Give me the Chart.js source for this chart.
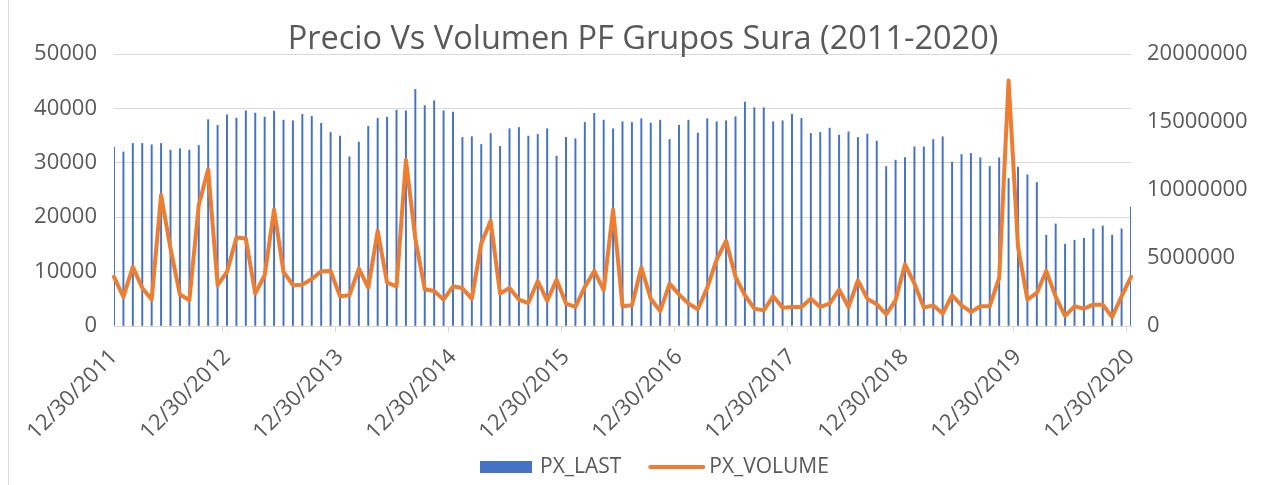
<!DOCTYPE html>
<html>
<head>
<meta charset="utf-8">
<script src="https://cdn.jsdelivr.net/npm/chart.js@4.4.1/dist/chart.umd.min.js"></script>
<style>
  html, body { margin: 0; padding: 0; background: #ffffff; }
  #wrap { width: 1276px; height: 485px; position: relative; }
</style>
</head>
<body>
<div id="wrap"><canvas id="c" width="1276" height="485"></canvas></div>
<script>
const chartTitle = 'Precio Vs Volumen PF Grupos Sura (2011-2020)';
const yearTickLabels = ['12/30/2011','12/30/2012','12/30/2013','12/30/2014','12/30/2015','12/30/2016','12/30/2017','12/30/2018','12/30/2019','12/30/2020'];

// monthly categories: Dec 2011 .. Dec 2020 (109 month-ends)
const categories = [];
for (let y = 2011; y <= 2020; y++) {
  for (let m = 1; m <= 12; m++) {
    if (y === 2011 && m < 12) continue;
    categories.push(m === 12 ? '12/30/' + y : m + '/' + y);
  }
}

const pxLast = [
  32900, 32000, 33560, 33560, 33310, 33560, 32330, 32580, 32330, 33190, 37940, 36870,
  38830, 38220, 39570, 39140, 38400, 39510, 37850, 37730, 38900, 38530, 37250, 35580,
  34910, 31100, 33800, 36690, 38160, 38400, 39690, 39570, 43500, 40520, 41410, 39570,
  39330, 34660, 34790, 33370, 35400, 33010, 36260, 36500, 34910, 35210, 36260, 31230,
  34660, 34420, 37420, 39080, 37850, 36260, 37550, 37420, 38100, 37300, 37850, 34300,
  36870, 37850, 35460, 38100, 37550, 37730, 38470, 41170, 40130, 40130, 37550, 37730,
  38900, 38160, 35400, 35580, 36380, 35090, 35700, 34660, 35280, 33990, 29330, 30490,
  30980, 32940, 32940, 34290, 34790, 30120, 31530, 31720, 30920, 29330, 30920, 27120,
  29200, 27790, 26380, 16690, 18770, 15030, 15770, 16130, 17850, 18400, 16690, 17850,
  21900
];

const pxVolume = [
  3610000, 2140000, 4350000, 2800000, 1940000, 9630000, 5700000, 2310000, 1890000, 8890000, 11520000, 3000000,
  3980000, 6510000, 6430000, 2380000, 3730000, 8570000, 3980000, 3000000, 3040000, 3460000, 4030000, 4050000,
  2190000, 2260000, 4220000, 2820000, 7000000, 3190000, 2920000, 12200000, 6430000, 2700000, 2580000, 1940000,
  2920000, 2770000, 2010000, 6070000, 7730000, 2380000, 2800000, 1940000, 1690000, 3310000, 1840000, 3410000,
  1650000, 1400000, 2870000, 4050000, 2630000, 8570000, 1450000, 1520000, 4300000, 2010000, 1100000, 3120000,
  2330000, 1650000, 1230000, 2820000, 4890000, 6260000, 3610000, 2260000, 1280000, 1150000, 2190000, 1350000,
  1400000, 1400000, 2010000, 1400000, 1650000, 2680000, 1400000, 3360000, 2010000, 1600000, 860000, 1890000,
  4540000, 3120000, 1350000, 1520000, 910000, 2260000, 1520000, 1030000, 1450000, 1470000, 3540000, 18050000,
  5820000, 1940000, 2430000, 4050000, 2140000, 740000, 1450000, 1280000, 1570000, 1570000, 660000, 2190000,
  3610000
];

const leftTicks = { min: 0, max: 50000, step: 10000 };
const rightTicks = { min: 0, max: 20000000, step: 5000000 };

const TXT = '#595959';
const GRID = '#d9d9d9';
const BAR_COLOR = '#4472C4';
const LINE_COLOR = '#ED7D31';
const FONT = "'Open Sans', sans-serif";
const PAD_BOTTOM = 30;
const PAD_LEFT = 10;
const PAD_RIGHT = 10;
const PLOT_LEFT = 114;
const PLOT_RIGHT = 1131;
const PLOT_BOTTOM = 326;

const decorPlugin = {
  id: 'decor',
  beforeDraw(chart) {
    const ctx = chart.ctx;
    ctx.save();
    ctx.fillStyle = '#ffffff';
    ctx.fillRect(0, 0, chart.width, chart.height);
    ctx.strokeStyle = GRID;
    ctx.lineWidth = 1;
    ctx.beginPath();
    ctx.moveTo(8.5, 0);
    ctx.lineTo(8.5, chart.height);
    ctx.stroke();
    ctx.restore();
  },
  afterDraw(chart) {
    const ctx = chart.ctx;
    ctx.save();
    // title
    ctx.fillStyle = TXT;
    ctx.font = "32.5px 'Open Sans', sans-serif";
    ctx.textAlign = 'center';
    ctx.textBaseline = 'middle';
    ctx.fillText(chartTitle, 643, 40);

    // legend
    const ds = chart.data.datasets;
    const cy = 467;
    ctx.font = "21px 'Open Sans', sans-serif";
    ctx.textAlign = 'left';
    ctx.textBaseline = 'middle';
    let x = 480;
    ds.forEach((d, i) => {
      if (d.type === 'bar') {
        ctx.fillStyle = d.backgroundColor;
        ctx.fillRect(x, cy - 6, 52, 12);
      } else {
        ctx.strokeStyle = d.borderColor;
        ctx.lineWidth = 4;
        ctx.lineCap = 'round';
        ctx.beginPath();
        ctx.moveTo(x + 1, cy);
        ctx.lineTo(x + 54, cy);
        ctx.stroke();
      }
      const tx = x + (d.type === 'bar' ? 60 : 60);
      ctx.fillStyle = TXT;
      ctx.fillText(d.label, tx, cy);
      x = tx + ctx.measureText(d.label).width + 28;
    });
    ctx.restore();
  }
};

new Chart(document.getElementById('c'), {
  data: {
    labels: categories,
    datasets: [
      {
        type: 'bar',
        label: 'PX_LAST',
        data: pxLast,
        backgroundColor: BAR_COLOR,
        barThickness: 1.3,
        yAxisID: 'y',
        order: 1
      },
      {
        type: 'line',
        label: 'PX_VOLUME',
        data: pxVolume,
        borderColor: LINE_COLOR,
        backgroundColor: LINE_COLOR,
        borderWidth: 4,
        pointRadius: 0,
        tension: 0,
        borderJoinStyle: 'round',
        borderCapStyle: 'round',
        yAxisID: 'y1',
        order: 0
      }
    ]
  },
  options: {
    responsive: false,
    animation: false,
    layout: { padding: { top: 54, bottom: PAD_BOTTOM, left: PAD_LEFT, right: PAD_RIGHT } },
    plugins: {
      title: { display: false },
      tooltip: { enabled: false },
      legend: { display: false }
    },
    scales: {
      x: {
        type: 'category',
        offset: false,
        grid: {
          display: true,
          drawOnChartArea: false,
          drawTicks: true,
          tickLength: 6,
          color: (c) => (c.index % 12 === 0 ? GRID : 'rgba(0,0,0,0)')
        },
        border: { display: true, color: GRID },
        ticks: {
          autoSkip: false,
          maxRotation: 45,
          minRotation: 45,
          color: TXT,
          padding: 12,
          font: { family: FONT, size: 22 },
          callback: (v, i) => (i % 12 === 0 ? yearTickLabels[i / 12] : '')
        },
        afterFit: (s) => { s.height = s.chart.height - PAD_BOTTOM - PLOT_BOTTOM; }
      },
      y: {
        position: 'left',
        min: leftTicks.min,
        max: leftTicks.max,
        grid: { color: GRID, drawTicks: false },
        border: { display: false },
        ticks: {
          stepSize: leftTicks.step,
          color: TXT,
          padding: 17,
          font: { family: FONT, size: 22 },
          callback: (v) => String(v)
        },
        afterFit: (s) => { s.width = PLOT_LEFT - PAD_LEFT; }
      },
      y1: {
        position: 'right',
        min: rightTicks.min,
        max: rightTicks.max,
        grid: { display: false, drawTicks: false },
        border: { display: false },
        ticks: {
          stepSize: rightTicks.step,
          color: TXT,
          padding: 16,
          font: { family: FONT, size: 22 },
          callback: (v) => String(v)
        },
        afterFit: (s) => { s.width = s.chart.width - PAD_RIGHT - PLOT_RIGHT; }
      }
    }
  },
  plugins: [decorPlugin]
});
</script>
</body>
</html>
